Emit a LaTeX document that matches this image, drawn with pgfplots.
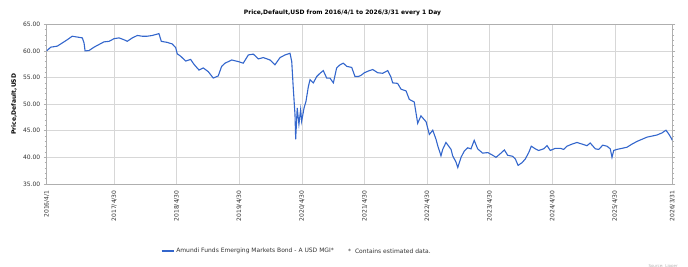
\documentclass[border=0pt]{standalone}
\usepackage{pgfplots}
\pgfplotsset{compat=1.18}
\usepackage{fontspec}
\setmainfont{DejaVu Sans}
\definecolor{lineblue}{RGB}{51,102,204}
\definecolor{gridgray}{RGB}{215,215,215}
\definecolor{axgray}{RGB}{175,175,175}
\definecolor{txtgray}{RGB}{50,50,50}
\begin{document}
\begin{tikzpicture}
\useasboundingbox (0,0) rectangle (688bp,267bp);
\begin{axis}[
  at={(46.7bp,83bp)}, anchor=south west,
  scale only axis, width=625.6bp, height=159.7bp,
  xmin=0, xmax=3651, ymin=35, ymax=65,
  xtick={0,394,759,1124,1490,1855,2220,2585,2951,3316,3651},
  xticklabels={2016/4/1,2017/4/30,2018/4/30,2019/4/30,2020/4/30,2021/4/30,2022/4/30,2023/4/30,2024/4/30,2025/4/30,2026/3/31},
  ytick={35,40,45,50,55,60,65},
  minor y tick num=4,
  xmajorgrids, ymajorgrids,
  major grid style={gridgray, line width=0.8bp},
  axis line style={axgray, line width=0.8bp},
  tick style={axgray, line width=0.6bp},
  tick align=outside,
  major tick length=3bp, minor tick length=2bp,
  xtick style={draw=none},
  /pgf/number format/assume math mode=true,
  yticklabel style={font=\fontsize{6bp}{7bp}\selectfont, text=txtgray, /pgf/number format/.cd, fixed, fixed zerofill, precision=2},
  xticklabel style={font=\fontsize{6bp}{7bp}\selectfont, text=txtgray, rotate=90, anchor=east},
  every axis title shift=0pt,
  title={Price,Default,USD from 2016/4/1 to 2026/3/31 every 1 Day},
  title style={at={(axis description cs:0.4728,1.0708)}, anchor=center, font=\fontsize{6bp}{7bp}\selectfont\bfseries, text=black},
  ylabel={Price,Default,USD},
  ylabel style={at={(axis description cs:-0.0523,0.5)}, anchor=center, rotate=0, font=\fontsize{6bp}{7bp}\selectfont\bfseries, text=black},
  legend style={at={(axis description cs:0.1827,-0.4195)}, anchor=west, draw=none, fill=none, inner sep=0pt, font=\fontsize{6bp}{7bp}\selectfont, text=txtgray},
  legend image code/.code={\draw[#1] (0bp,0bp) -- (12bp,0bp);},
]
\addplot[lineblue, line width=1.1bp] table {
0 60.0
23 60.7
62 60.9
91 61.5
120 62.1
149 62.76
179 62.6
208 62.45
218 61.5
224 60.0
247 60.07
276 60.7
305 61.2
334 61.7
364 61.8
393 62.3
422 62.45
451 62.1
470 61.8
500 62.45
529 62.9
558 62.76
587 62.76
616 62.9
655 63.25
669 61.8
704 61.6
733 61.3
753 60.6
762 59.45
782 59.0
811 58.1
840 58.4
860 57.46
889 56.4
914 56.8
943 56.1
972 54.9
1001 55.3
1021 57.1
1041 57.7
1080 58.3
1118 58.0
1147 57.7
1177 59.25
1206 59.4
1235 58.5
1264 58.75
1303 58.3
1332 57.4
1362 58.75
1391 59.25
1420 59.56
1430 58.0
1439 53.0
1449 48.05
1453 43.4
1462 49.3
1472 46.2
1482 49.0
1488 46.8
1502 49.3
1513 50.5
1527 53.3
1537 54.6
1556 54.0
1576 55.2
1595 55.8
1614 56.3
1634 54.9
1653 54.9
1673 54.0
1692 56.8
1712 57.4
1731 57.7
1751 57.1
1780 56.9
1799 55.2
1819 55.2
1834 55.4
1854 55.9
1883 56.3
1903 56.5
1932 55.9
1961 55.8
1990 56.3
2009 55.1
2019 54.0
2048 53.9
2068 52.8
2097 52.5
2116 50.9
2145 50.4
2165 46.4
2184 47.8
2214 46.7
2233 44.3
2253 45.1
2272 43.4
2282 42.2
2301 40.3
2311 41.5
2330 42.8
2360 41.5
2369 40.3
2389 39.1
2399 38.1
2418 40.0
2437 41.2
2457 41.8
2476 41.6
2495 43.2
2515 41.6
2544 40.8
2574 40.9
2603 40.4
2622 40.0
2651 40.8
2671 41.4
2690 40.4
2720 40.2
2735 39.7
2751 38.5
2774 39.0
2793 39.7
2813 40.9
2828 42.1
2852 41.6
2871 41.3
2900 41.6
2920 42.2
2939 41.3
2968 41.7
2997 41.7
3017 41.5
3036 42.1
3066 42.5
3095 42.8
3124 42.5
3153 42.2
3172 42.7
3202 41.6
3222 41.5
3245 42.3
3270 42.1
3289 41.6
3299 40.0
3309 41.3
3328 41.5
3357 41.7
3386 41.9
3416 42.5
3445 43.0
3474 43.4
3503 43.8
3532 44.0
3561 44.2
3591 44.6
3614 45.1
3630 44.4
3645 43.6
3651 43.2
};
\addlegendentry{Amundi Funds Emerging Markets Bond - A USD MGI*}
\end{axis}
\node[anchor=west, inner sep=0pt, font=\fontsize{6bp}{7bp}\selectfont, text=txtgray] at (348bp,16bp) {*\ \ Contains estimated data.};
\node[anchor=east, inner sep=0pt, font=\fontsize{4bp}{5bp}\selectfont, text=gray!60] at (678bp,1bp) {Source: Lipper};
\end{tikzpicture}
\end{document}
